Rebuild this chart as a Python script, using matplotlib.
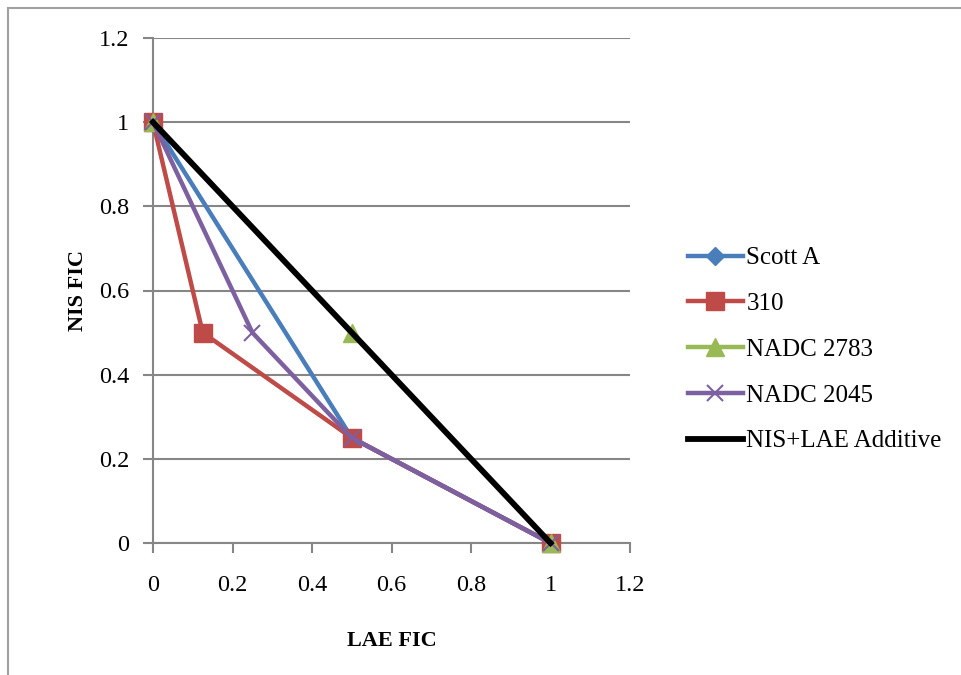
import matplotlib
matplotlib.use("Agg")
import matplotlib.pyplot as plt
from matplotlib.patches import Rectangle

# FIC data
scott_x = [0, 0.5, 1]
scott_y = [1, 0.25, 0]
s310_x = [0, 0.125, 0.5, 1]
s310_y = [1, 0.5, 0.25, 0]
n2783_x = [0, 0.5, 1]
n2783_y = [1, 0.5, 0]
n2045_x = [0, 0.25, 0.5, 1]
n2045_y = [1, 0.5, 0.25, 0]
add_x = [0, 1]
add_y = [1, 0]
ticks = [0, 0.2, 0.4, 0.6, 0.8, 1, 1.2]
tick_labels = ["0", "0.2", "0.4", "0.6", "0.8", "1", "1.2"]

plt.rcParams["font.family"] = ["Liberation Serif", "DejaVu Serif"]

fig = plt.figure(figsize=(9.61, 6.75), dpi=100)
fig.patches.append(Rectangle((8 / 961, -0.1), 1.2, 1 - 8 / 675 + 0.1,
                             transform=fig.transFigure, fill=False,
                             edgecolor="#a0a0a0", linewidth=1.5))
ax = fig.add_axes([153 / 961, 1 - 543 / 675, 477 / 961, 505 / 675])

grey = "#868686"
ax.plot(scott_x, scott_y, color="#4A7EBB", lw=3.2, marker="D", ms=9,
        label="Scott A")
ax.plot(s310_x, s310_y, color="#BE4B48", lw=3.2, marker="s", ms=13,
        label="310")
ax.plot(n2783_x, n2783_y, color="#98B954", lw=3.2, marker="^", ms=13,
        label="NADC 2783")
ax.plot(n2045_x, n2045_y, color="#7D60A0", lw=3.2, marker="x", ms=12,
        mew=1.5, label="NADC 2045")
ax.plot(add_x, add_y, color="black", lw=4.2, label="NIS+LAE Additive")

ax.set_xlim(0, 1.2)
ax.set_ylim(0, 1.2)
ax.set_xticks(ticks)
ax.set_xticklabels(tick_labels)
ax.set_yticks(ticks)
ax.set_yticklabels(tick_labels)
ax.grid(axis="y", color=grey, lw=1.5)
ax.set_axisbelow(True)
for s in ["top", "right"]:
    ax.spines[s].set_visible(False)
for s in ["left", "bottom"]:
    ax.spines[s].set_color(grey)
    ax.spines[s].set_linewidth(1.5)
    ax.spines[s].set_zorder(0.5)
ax.tick_params(colors=grey, width=1.5, length=7, labelsize=17.5,
               labelcolor="black")
ax.tick_params(axis="x", pad=16)
ax.tick_params(axis="y", pad=10)
for lbl in ax.get_xticklabels() + ax.get_yticklabels():
    lbl.set_clip_on(False)
for line in ax.lines:
    line.set_clip_on(False)

ax.set_xlabel("LAE FIC", fontsize=16, fontweight="bold", labelpad=25)
ax.set_ylabel("NIS FIC", fontsize=16, fontweight="bold", labelpad=8)

fig.legend(loc="center left", bbox_to_anchor=(0.705, 0.482), frameon=False,
           fontsize=18, handlelength=2.2, handletextpad=0.15,
           labelspacing=0.93, borderaxespad=0)

fig.savefig("out.png", dpi=100)
